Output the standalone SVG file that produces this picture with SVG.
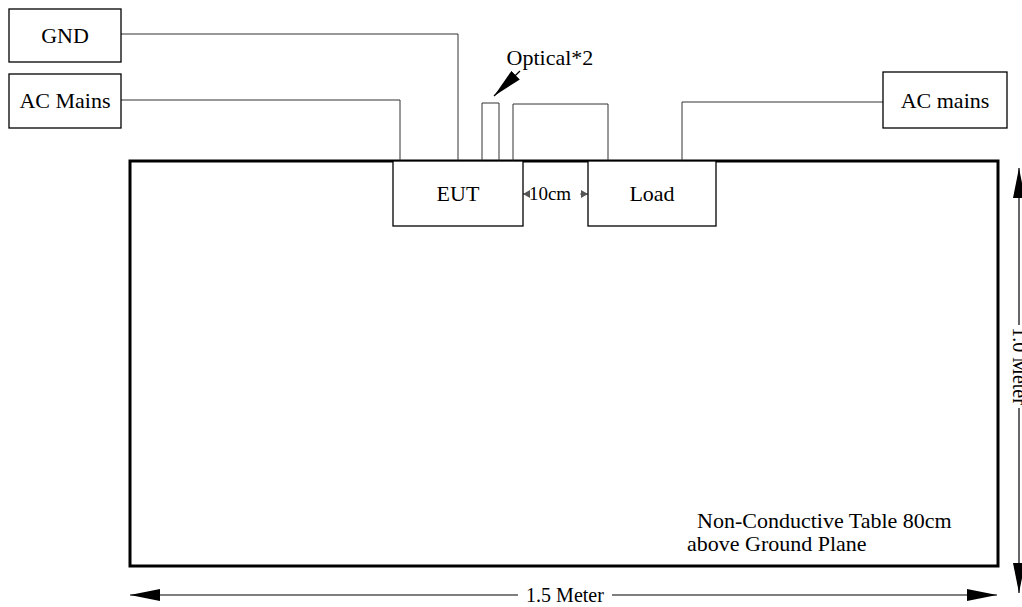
<svg xmlns="http://www.w3.org/2000/svg" width="1022" height="607" viewBox="0 0 1022 607">
<style>
text{font-family:"Liberation Serif","Times New Roman",serif;font-size:22px;fill:#000}
.box{fill:#fff;stroke:#000;stroke-width:1.3}
.wire{fill:none;stroke:#333;stroke-width:1}
.dim{fill:none;stroke:#000;stroke-width:1.2}
</style>
<defs>
<marker id="ah" markerWidth="10" markerHeight="8" refX="10" refY="4" orient="auto" markerUnits="userSpaceOnUse">
<path d="M0,0 L10,4 L0,8 Z" fill="#000"/>
</marker>
<marker id="ahb" markerWidth="30" markerHeight="12" refX="30" refY="6" orient="auto" markerUnits="userSpaceOnUse">
<path d="M0,0 L30,6 L0,12 Z" fill="#000"/>
</marker>
<marker id="ahs" markerWidth="7" markerHeight="8" refX="7" refY="4" orient="auto" markerUnits="userSpaceOnUse">
<path d="M0,0 L7,4 L0,8 Z" fill="#555"/>
</marker>
</defs>
<rect x="130" y="161" width="868" height="405" fill="none" stroke="#000" stroke-width="3"/>
<g id="connectors">
<polyline class="wire" points="121,34 458,34 458,161"/>
<polyline class="wire" points="121,100 400,100 400,161"/>
<polyline class="wire" points="482,161 482,103 499,103 499,161"/>
<polyline class="wire" points="513,161 513,104 608,104 608,161"/>
<polyline class="wire" points="883,102 682,102 682,161"/>
<line x1="520" y1="71" x2="494" y2="96" stroke="#000" stroke-width="1.3" marker-end="url(#ahb)"/>
<line x1="530" y1="194" x2="523" y2="194" stroke="#555" stroke-width="1" marker-end="url(#ahs)"/>
<line x1="580" y1="194" x2="588" y2="194" stroke="#555" stroke-width="1" marker-end="url(#ahs)"/>
<line class="dim" x1="518" y1="595" x2="130" y2="595" marker-end="url(#ahb)"/>
<line class="dim" x1="612" y1="595" x2="997" y2="595" marker-end="url(#ahb)"/>
<line class="dim" x1="1019" y1="325" x2="1019" y2="168" marker-end="url(#ahb)"/>
<line class="dim" x1="1019" y1="408" x2="1019" y2="593" marker-end="url(#ahb)"/>
</g>
<g id="gnd"><rect class="box" x="9" y="9" width="112" height="53"/><text x="65" y="43" text-anchor="middle">GND</text></g>
<g id="ac-mains-left"><rect class="box" x="9" y="74" width="112" height="54"/><text x="65" y="108" text-anchor="middle">AC Mains</text></g>
<g id="ac-mains-right"><rect class="box" x="883" y="72" width="124" height="56"/><text x="945" y="108" text-anchor="middle">AC mains</text></g>
<g id="eut"><rect class="box" x="393" y="161" width="130" height="65"/><text x="458" y="201" text-anchor="middle">EUT</text></g>
<g id="load"><rect class="box" x="588" y="161" width="128" height="65"/><text x="652" y="201" text-anchor="middle">Load</text></g>
<text x="550" y="200" text-anchor="middle" style="font-size:19px">10cm</text>
<text x="550" y="65" text-anchor="middle">Optical*2</text>
<text x="565" y="602" text-anchor="middle" style="font-size:20px">1.5 Meter</text>
<text transform="translate(1013,366) rotate(90)" text-anchor="middle" style="font-size:20px">1.0 Meter</text>
<text x="697" y="528">Non-Conductive Table 80cm</text>
<text x="687" y="551">above Ground Plane</text>
</svg>
